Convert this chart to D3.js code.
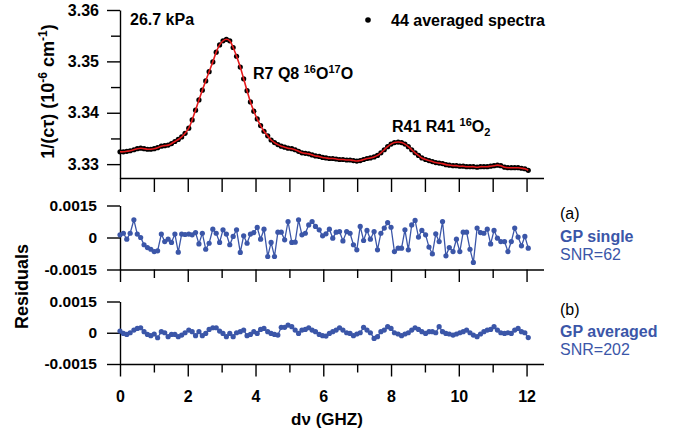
<!DOCTYPE html>
<html><head><meta charset="utf-8">
<script src="https://cdn.jsdelivr.net/npm/d3@7"></script>
<style>
body{margin:0;background:#fff}
svg{display:block}
text{font-family:"Liberation Sans",Arial,Helvetica,sans-serif}
</style>
</head><body>
<svg id="c" width="678" height="433"></svg>
<script>
// ---------------- data ----------------
const freqs = [0,0.10,0.20,0.30,0.41,0.51,0.61,0.71,0.81,0.91,1.01,1.11,1.22,1.32,1.42,1.52,1.62,1.72,1.82,1.92,
2.03,2.13,2.23,2.33,2.43,2.53,2.63,2.74,2.84,2.94,3.04,3.14,3.24,3.34,3.44,3.55,3.65,3.75,3.85,3.95,
4.05,4.15,4.25,4.36,4.46,4.56,4.66,4.76,4.86,4.96,5.07,5.17,5.27,5.37,5.47,5.57,5.67,5.77,5.88,5.98,
6.08,6.18,6.28,6.38,6.48,6.58,6.69,6.79,6.89,6.99,7.09,7.19,7.29,7.39,7.50,7.60,7.70,7.80,7.90,8.00,
8.10,8.21,8.31,8.41,8.51,8.61,8.71,8.81,8.91,9.02,9.12,9.22,9.32,9.42,9.52,9.62,9.72,9.83,9.93,10.03,
10.13,10.23,10.33,10.43,10.54,10.64,10.74,10.84,10.94,11.04,11.14,11.24,11.35,11.45,11.55,11.65,11.75,11.85,11.95,12.05];

// 1/(c tau) in 10^-6 cm^-1, 44 averaged spectra
const spectrum = [3.3324,3.3324,3.3325,3.3326,3.3328,3.3330,3.3331,3.3330,3.3329,3.3329,
3.3330,3.3332,3.3335,3.3336,3.3337,3.3340,3.3344,3.3348,3.3353,3.3360,
3.3370,3.3386,3.3405,3.3425,3.3444,3.3462,3.3480,3.3499,3.3518,3.3532,
3.3540,3.3543,3.3540,3.3527,3.3510,3.3489,3.3466,3.3443,3.3421,3.3403,
3.3388,3.3375,3.3364,3.3355,3.3347,3.3342,3.3338,3.3335,3.3333,3.3331,
3.3330,3.3328,3.3325,3.3322,3.3321,3.3320,3.3318,3.3316,3.3315,3.3313,
3.3312,3.3311,3.3311,3.3310,3.3309,3.3309,3.3308,3.3308,3.3307,3.3306,
3.3307,3.3309,3.3311,3.3312,3.3314,3.3317,3.3322,3.3328,3.3334,3.3339,
3.3342,3.3343,3.3342,3.3339,3.3334,3.3328,3.3322,3.3317,3.3312,3.3309,
3.3307,3.3305,3.3303,3.3302,3.3301,3.3299,3.3298,3.3297,3.3297,3.3296,
3.3296,3.3295,3.3295,3.3295,3.3294,3.3295,3.3295,3.3295,3.3296,3.3297,
3.3298,3.3297,3.3294,3.3293,3.3293,3.3293,3.3293,3.3292,3.3291,3.3288];

// residuals, in units of 1e-4
const RES_UNIT = 1e-4;
const residSingle = [1.25,2.0,-0.8,2.0,8.3,1.6,0,-3.4,-4.7,-5.5,-6.6,-6.25,1.6,-1.9,-0.8,-2.3,1.6,-6.9,1.6,1.4,
1.6,1.25,2.3,-3.0,2.0,-5.5,-2.7,3.9,2.0,-2.3,3.6,1.6,-3.4,0.5,3.6,-7.0,0.8,-2.7,1.6,2.3,
4.7,-0.8,3.9,-8.9,-2.3,-8.9,2.5,2.5,-1.1,7.5,-2.3,-2.2,8.3,1.25,2.0,5.9,7.5,5.2,3.6,0.8,
1.7,3.9,-0.3,2.5,2.8,-1.6,2.8,2.0,-3.4,-5.8,5.2,-1.4,3.3,-0.8,2.8,-5.8,2.0,4.4,7.0,4.8,
-6.6,-5.0,-5.0,3.6,-5.8,5.9,8.0,0.2,3.3,1.25,-4.5,-7.7,1.7,-1.9,7.5,-8.6,-4.7,-6.6,-0.8,-6.6,
2.5,2.5,-5.5,-11.7,4.4,2.3,2.0,3.9,-3.0,3.3,-0.3,-1.9,-1.9,-6.6,-1.9,4.4,0.2,-3.9,0.5,-5.0];

const residAvg = [0.8,-0.3,-0.8,0,1.3,2.1,2.4,0.5,-0.8,-1.4,-0.6,-2.4,0.5,0,-1.9,-0.8,-0.8,-1.9,-1.1,0,
1.3,0.5,-1.4,0.5,-1.4,-0.3,1.6,2.4,2.4,0.8,-0.3,-1.9,-0.3,-1.9,0,0.5,1.3,-1.4,-0.8,0.5,
-0.3,1.6,2.1,0.5,-0.3,-0.8,-1.1,2.6,2.6,3.7,2.9,1.3,
-0.3,1.3,1.6,2.4,1.3,0.5,-0.8,-1.4,-1.6,-0.3,0.5,1.3,2.4,1.3,0,-0.3,-1.4,-0.6,0,2.6,
1.3,0,-2.7,-1.9,0.5,1.3,2.9,2.1,0,-0.6,-1.4,-0.6,0,1.3,2.4,1.6,0.5,-0.3,0.5,0.5,
0,2.9,0.5,-0.3,-0.6,-1.1,-0.6,0,0.5,1.3,0,-1.1,-1.9,-0.6,0.5,1.3,1.6,2.9,1.3,0,
-0.3,0,-0.3,1.3,2.1,0.5,0,-2.3];

const specTicks = [3.33,3.34,3.35,3.36];
const specMinorTicks = [3.335,3.345,3.355];
const freqTicks = [0,2,4,6,8,10,12];
const freqMinorTicks = [1,3,5,7,9,11];
const freqAllTicks = [0,1,2,3,4,5,6,7,8,9,10,11,12];
const residTicks = [-15,0,15];
const residTickLabels = ["-0.0015","0","0.0015"];

const BLUE = "#3b56a8";
const RED = "#e41a1c";

// ---------------- drawing ----------------
const svg = d3.select("#c");
svg.append("rect").attr("width",678).attr("height",433).attr("fill","#fff");

const x = d3.scaleLinear().domain([0,12.5]).range([120,543.5]);
const yS = d3.scaleLinear().domain([3.3273,3.36]).range([178,10]);
const yA = d3.scaleLinear().domain([-15,15]).range([269.5,205.5]);
const yB = d3.scaleLinear().domain([-15,15]).range([364,301.5]);

function styleAxis(g, fs){
  g.selectAll("path,line").attr("stroke","#000").attr("stroke-width",1.4);
  g.selectAll("text").attr("fill","#000").attr("font-size",fs).attr("font-weight","bold")
   .attr("font-family","'Liberation Sans',Arial,Helvetica,sans-serif");
}

// top panel axes
let g = svg.append("g").attr("transform","translate(120,0)")
  .call(d3.axisLeft(yS).tickValues(specTicks).tickSize(13).tickPadding(8).tickSizeOuter(0).tickFormat(d3.format(".2f")));
styleAxis(g,16);
g = svg.append("g").attr("transform","translate(120,0)")
  .call(d3.axisLeft(yS).tickValues(specMinorTicks).tickSize(9).tickFormat(""));
g.select(".domain").remove(); styleAxis(g,16);
g = svg.append("g").attr("transform","translate(0,178)")
  .call(d3.axisBottom(x).tickValues(freqAllTicks).tickSize(14).tickSizeOuter(0).tickFormat(""));
styleAxis(g,16);

// residual panels axes
function residAxes(y, labels){
  let a = svg.append("g").attr("transform","translate(120,0)")
    .call(d3.axisLeft(y).tickValues(residTicks).tickSize(13).tickPadding(10).tickSizeOuter(0)
      .tickFormat(d => residTickLabels[residTicks.indexOf(d)]));
  styleAxis(a,15.5);
  const y0 = y(-15);
  let b = svg.append("g").attr("transform",`translate(0,${y0})`)
    .call(d3.axisBottom(x).tickValues(freqTicks).tickSize(12.5).tickPadding(14).tickSizeOuter(0)
      .tickFormat(labels ? d3.format("d") : ""));
  styleAxis(b,16);
  let c = svg.append("g").attr("transform",`translate(0,${y0})`)
    .call(d3.axisBottom(x).tickValues(freqMinorTicks).tickSize(8.5).tickFormat(""));
  c.select(".domain").remove(); styleAxis(c,16);
}
residAxes(yA,false);
residAxes(yB,true);

// top spectrum: dots + red fit line
const specData = freqs.map((f,i)=>({f, v:spectrum[i]}));
svg.append("g").selectAll("circle").data(specData).join("circle")
  .attr("cx",d=>x(d.f)).attr("cy",d=>yS(d.v)).attr("r",2.6).attr("fill","#000");
svg.append("path").datum(specData)
  .attr("d", d3.line().x(d=>x(d.f)).y(d=>yS(d.v)).curve(d3.curveCatmullRom))
  .attr("fill","none").attr("stroke",RED).attr("stroke-width",1.6);

// residual series
function residSeries(arr, y){
  const data = freqs.map((f,i)=>({f, v:arr[i]}));
  svg.append("path").datum(data)
    .attr("d", d3.line().x(d=>x(d.f)).y(d=>y(d.v)))
    .attr("fill","none").attr("stroke",BLUE).attr("stroke-width",1.3);
  svg.append("g").selectAll("circle").data(data).join("circle")
    .attr("cx",d=>x(d.f)).attr("cy",d=>y(d.v)).attr("r",2.6).attr("fill",BLUE);
}
residSeries(residSingle, yA);
residSeries(residAvg, yB);

// ---------------- text ----------------
function txt(xp, yp, s, opt={}){
  return svg.append("text").attr("x",xp).attr("y",yp)
    .attr("font-size",opt.size||16).attr("font-weight",opt.weight||"bold")
    .attr("fill",opt.fill||"#000").attr("text-anchor",opt.anchor||"start").text(s);
}
txt(130,25,"26.7 kPa");
svg.append("circle").attr("cx",368).attr("cy",20).attr("r",2.8).attr("fill","#000");
txt(391,26,"44 averaged spectra");

function richText(xp, yp, parts, opt={}){
  const t = svg.append("text").attr("x",xp).attr("y",yp)
    .attr("font-size",opt.size||16).attr("font-weight","bold").attr("fill","#000")
    .attr("text-anchor",opt.anchor||"start");
  if (opt.transform) t.attr("transform",opt.transform);
  let shift = 0;
  parts.forEach(p=>{
    const target = p.sup ? -opt.sup : (p.sub ? opt.sub : 0);
    const ts = t.append("tspan").text(p.t).attr("dy", target - shift);
    if (p.sup || p.sub) ts.attr("font-size", opt.small);
    shift = target;
  });
  return t;
}
richText(253,79,[{t:"R7 Q8 "},{t:"16",sup:1},{t:"O"},{t:"17",sup:1},{t:"O"}],{sup:6,sub:4,small:11});
richText(392,132,[{t:"R41 R41 "},{t:"16",sup:1},{t:"O"},{t:"2",sub:1}],{sup:6,sub:4,small:11});

// axis titles
txt(327,425,"d\u03bd (GHZ)",{anchor:"middle",size:17});
svg.append("text").attr("transform","translate(28,286.5) rotate(-90)")
  .attr("text-anchor","middle").attr("font-size",18).attr("font-weight","bold").attr("fill","#000")
  .text("Residuals");
richText(0,0,[{t:"1/(c\u03c4) (10"},{t:"-6",sup:1},{t:" cm"},{t:"-1",sup:1},{t:")"}],
  {sup:7,sub:4,small:12,size:18,anchor:"middle",transform:"translate(54,91.5) rotate(-90)"});

// right side labels
txt(560,219,"(a)",{weight:"normal"});
txt(560,242,"GP single",{fill:BLUE});
txt(560,260,"SNR=62",{fill:BLUE,weight:"normal"});
txt(560,315,"(b)",{weight:"normal"});
txt(560,337,"GP averaged",{fill:BLUE});
txt(560,355,"SNR=202",{fill:BLUE,weight:"normal"});
</script>
</body></html>
